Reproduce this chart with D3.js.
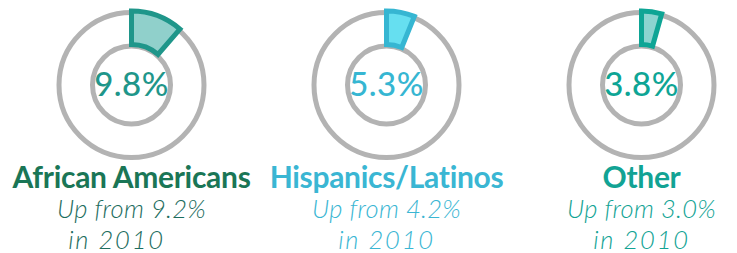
<!DOCTYPE html>
<html>
<head>
<meta charset="utf-8">
<script src="https://cdn.jsdelivr.net/npm/d3@7"></script>
<style>
  html, body { margin: 0; padding: 0; background: #fff; }
  text { font-family: Lato, "Open Sans", sans-serif; }
</style>
</head>
<body>
<div id="vis"></div>
<script>
// data
var groups = ["African Americans", "Hispanics/Latinos", "Other"];
var share = [9.8, 5.3, 3.8];        // current share, %
var share2010 = [9.2, 4.2, 3.0];    // share in 2010, %
var baseYear = "2010";

// style per group
var ink = ["#1f968a", "#36b6d2", "#0ea595"];
var titleInk = ["#1a7656", "#3ab6d3", "#12a394"];
var subInk = ["#1d6d5e", "#3ab6d3", "#12a394"];
var fill = ["#90d0cb", "#66dff0", "#8bd4d0"];
var lineTwoShift = [-15, 0, 0];

/* ****** Graph size ****** */
var width = 737;
var height = 253;
var cy = 85;

var svg = d3.select("#vis")
    .append("svg")
    .attr("width", width)
    .attr("height", height);

var x = d3.scalePoint()
    .domain(groups)
    .range([131.5, 641.5]);

// slice sweep, drawn a bit wider than a true pie share so it reads
var angle = d3.scaleLinear()
    .domain([0, 100])
    .range([0, 417 * Math.PI / 180]);

var arc = d3.arc()
    .innerRadius(40.5)
    .outerRadius(74)
    .startAngle(0);

var rows = groups.map(function (g, i) {
    return { name: g, value: share[i], before: share2010[i], i: i };
});

var col = svg.selectAll("g.col")
    .data(rows)
    .enter()
    .append("g")
    .attr("class", "col")
    .attr("transform", function (d) { return "translate(" + x(d.name) + ",0)"; });

/* ****** Grey rings ****** */
col.selectAll("circle.ring")
    .data([72.5, 39])
    .enter()
    .append("circle")
    .attr("class", "ring")
    .attr("cx", 0)
    .attr("cy", cy)
    .attr("r", function (r) { return r; })
    .attr("fill", "none")
    .attr("stroke", "#b3b3b3")
    .attr("stroke-width", 5);

/* ****** Slice ****** */
col.append("path")
    .attr("transform", "translate(0," + cy + ")")
    .attr("d", function (d) { return arc({ endAngle: angle(d.value) }); })
    .attr("fill", function (d) { return fill[d.i]; })
    .attr("stroke", function (d) { return ink[d.i]; })
    .attr("stroke-width", 5)
    .attr("stroke-linejoin", "miter");

/* ****** Labels ****** */
col.append("text")
    .attr("x", 0)
    .attr("y", 96)
    .attr("text-anchor", "middle")
    .style("font-size", "33px")
    .style("font-weight", 500)
    .style("letter-spacing", "0.5px")
    .attr("fill", function (d) { return ink[d.i]; })
    .text(function (d) { return d3.format(".1f")(d.value) + "%"; });

col.append("text")
    .attr("x", 0)
    .attr("y", 188)
    .attr("text-anchor", "middle")
    .style("font-size", "30px")
    .style("font-weight", 700)
    .style("letter-spacing", "-0.3px")
    .attr("fill", function (d) { return titleInk[d.i]; })
    .text(function (d) { return d.name; });

col.append("text")
    .attr("x", 0)
    .attr("y", 218)
    .attr("text-anchor", "middle")
    .style("font-size", "25.5px")
    .style("font-style", "italic")
    .style("font-weight", 300)
    .style("letter-spacing", "0.3px")
    .attr("fill", function (d) { return subInk[d.i]; })
    .text(function (d) { return "Up from " + d3.format(".1f")(d.before) + "%"; });

col.append("text")
    .attr("x", function (d) { return lineTwoShift[d.i]; })
    .attr("y", 248.5)
    .attr("text-anchor", "middle")
    .style("font-size", "25.5px")
    .style("font-style", "italic")
    .style("font-weight", 300)
    .style("letter-spacing", "1.8px")
    .attr("fill", function (d) { return subInk[d.i]; })
    .text("in " + baseYear);
</script>
</body>
</html>
